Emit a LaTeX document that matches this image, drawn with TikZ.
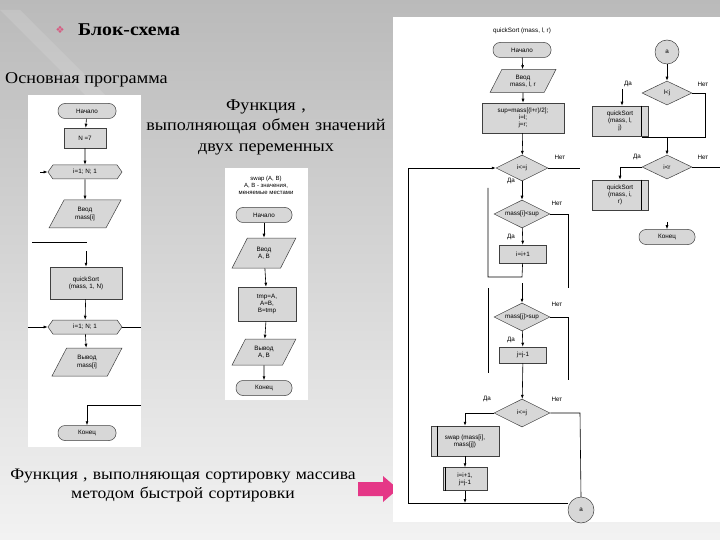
\documentclass[tikz,border=0pt]{standalone}
\usepackage{fontspec}
\setmainfont{Liberation Serif}[FakeStretch=1.1]
\newfontfamily\fcfont{Liberation Sans}
\newfontfamily\symfont{DejaVu Sans}
\usetikzlibrary{shapes.geometric,shapes.symbols,arrows.meta}
\definecolor{boxgray}{RGB}{215,215,215}
\definecolor{pinkA}{RGB}{229,55,135}
\definecolor{bulletpink}{RGB}{214,92,130}
\tikzset{
  fc/.style={draw=black!75, line width=0.5pt, fill=boxgray, font=\fcfont\fontsize{6.3}{7.2}\selectfont, align=center, inner sep=1pt},
  term/.style={fc, rectangle, rounded corners=7pt, minimum width=58pt, minimum height=15pt},
  proc/.style={fc, rectangle},
  io/.style={fc, trapezium, trapezium left angle=62, trapezium right angle=118, trapezium stretches=true},
  dec/.style={fc, diamond, inner sep=0pt, aspect=2},
  hex/.style={fc, signal, signal to=east and west, signal pointer angle=110},
  conn/.style={fc, circle},
  arr/.style={-{Latex[length=4pt,width=3pt]}, line width=0.6pt},
  ln/.style={line width=0.6pt},
  lab/.style={font=\fcfont\fontsize{6.3}{7.2}\selectfont, inner sep=0pt},
  big/.style={font=\fontsize{16.5}{19.5}\selectfont, align=center, inner sep=0pt},
  panel/.style={fill=white, draw=none}
}
\begin{document}
\begin{tikzpicture}[x=1pt,y=-1pt]
\useasboundingbox (0,0) rectangle (720,540);
\shade[top color=black!27, bottom color=black!5] (0,0) rectangle (720,540);
\fill[white, opacity=0.12] (0,10) -- (20,10) -- (130,120) -- (110,120) -- cycle;

% headings
\node[inner sep=0pt, text=bulletpink, font=\symfont\fontsize{10}{12}\selectfont] (bul) at (60,30) {❖};
\node[inner sep=0pt, anchor=west, font=\bfseries\fontsize{18}{21}\selectfont] (ttl) at (78,30) {Блок-схема};
\node[big, anchor=west] (main) at (5,80) {Основная программа};
\node[big, text width=270pt] (swt) at (266,127) {Функция ,\\[1pt] выполняющая обмен значений\\[1pt] двух переменных};
\node[big, font=\fontsize{16}{19}\selectfont, text width=390pt] (qst) at (183,485) {Функция , выполняющая сортировку массива\\ методом быстрой сортировки};
\fill[pinkA] (358,482) -- (383,482) -- (383,476) -- (398,489) -- (383,502) -- (383,496) -- (358,496) -- cycle;

% panels
\fill[panel] (28,95) rectangle (141,447);
\fill[panel] (225,168) rectangle (308,400);
\fill[panel] (393,17) rectangle (720,522);

% ---------------- main program ----------------
\node[term] (n1) at (87,111) {Начало};
\node[proc, minimum width=42pt, minimum height=20pt] (n2) at (85,138) {N =7};
\node[hex, minimum width=74pt, minimum height=14pt] (n3) at (85,172) {i=1; N; 1};
\node[io, minimum width=72pt, minimum height=28pt] (n4) at (85,214) {Ввод\\mass[i]};
\node[proc, minimum width=72pt, minimum height=32pt] (n5) at (86,283) {quickSort\\(mass, 1, N)};
\node[hex, minimum width=74pt, minimum height=14pt] (n6) at (85,327) {i=1; N; 1};
\node[io, minimum width=70pt, minimum height=28pt] (n7) at (87,362) {Вывод\\mass[i]};
\node[term] (n8) at (87,433) {Конец};
\coordinate (l1) at (40,172);
\coordinate (l2) at (32,242);
\coordinate (l3) at (87,242);
\coordinate (l4) at (86,251);
\coordinate (l5) at (28,327);
\coordinate (l6) at (141,327);
\coordinate (l7) at (141,405);
\coordinate (l8) at (87,405);
\draw[arr] (n1) -- (n2);
\draw[arr] (n2) -- (n3);
\draw[arr] (n3) -- (n4);
\draw[arr] (l1) -- (n3.west);
\draw[ln] (l2) -- (l3);
\draw[arr] (l4) -- (n5);
\draw[arr] (n5) -- (n6);
\draw[arr] (l5) -- (n6.west);
\draw[ln] (n6.east) -- (l6);
\draw[arr] (n6) -- (n7);
\draw[arr] (l7) -- (l8) -- (n8);

% ---------------- swap ----------------
\node[lab, align=center, font=\fcfont\fontsize{6}{7}\selectfont] (m0) at (266,185) {swap (A, B)\\A, B - значения,\\меняемые местами};
\node[term, minimum width=56pt] (m1) at (264,215) {Начало};
\node[io, minimum width=64pt, minimum height=30pt] (m2) at (264,253) {Ввод\\A, B};
\node[proc, minimum width=58pt, minimum height=34pt] (m3) at (267,304) {tmp=A,\\A=B,\\B=tmp};
\node[io, minimum width=64pt, minimum height=26pt] (m4) at (264,352) {Вывод\\A, B};
\node[term, minimum width=56pt] (m5) at (264,388) {Конец};
\draw[arr] (m1) -- (m2);
\draw[arr] (m2) -- (m3);
\draw[arr] (m3) -- (m4);
\draw[arr] (m4) -- (m5);

% ---------------- quickSort ----------------
\node[lab] (q0) at (522,31) {quickSort (mass, l, r)};
\node[term] (q1) at (522,50) {Начало};
\node[io, minimum width=66pt, minimum height=23pt] (q2) at (523,81) {Ввод\\mass, l, r};
\node[proc, minimum width=82pt, minimum height=30pt] (q3) at (523,118) {sup=mass[(l+r)/2];\\i=l;\\j=r;};
\node[dec, minimum width=52pt, minimum height=26pt] (d1) at (522,168) {i<=j};
\node[dec, minimum width=56pt, minimum height=28pt] (d2) at (522,214) {mass[i]<sup};
\node[proc, minimum width=47pt, minimum height=18pt] (b1) at (523,254) {i=i+1};
\node[dec, minimum width=56pt, minimum height=28pt] (d3) at (522,317) {mass[j]>sup};
\node[proc, minimum width=47pt, minimum height=16pt] (b2) at (523,355) {j=j-1};
\node[dec, minimum width=56pt, minimum height=28pt] (d4) at (522,413) {i<=j};
\node[proc, minimum width=68pt, minimum height=30pt] (sw) at (465,441) {swap (mass[i],\\mass[j])};
\node[proc, minimum width=44pt, minimum height=23pt] (b3) at (465,479) {i=i+1,\\j=j-1};
\node[conn, minimum size=26pt] (ca) at (581,510) {a};
\draw[ln] ([xshift=7pt]sw.north west) -- ([xshift=7pt]sw.south west);
\draw[ln] ([xshift=3pt]b3.north west) -- ([xshift=3pt]b3.south west);

\coordinate (r1) at (522,277);
\coordinate (r2) at (488,277);
\coordinate (r3) at (488,188);
\coordinate (r4) at (568,214);
\coordinate (r5) at (568,288);
\coordinate (r6) at (522,283);
\coordinate (r7) at (568,317);
\coordinate (r8) at (568,380);
\coordinate (r9) at (488,288);
\coordinate (r10) at (488,373);
\coordinate (r11) at (580,413);
\coordinate (r12) at (465,503);
\coordinate (r13) at (568,503);
\coordinate (r14) at (408,503);
\coordinate (r15) at (408,168);
\coordinate (r16) at (580,168);

\draw[arr] (q1) -- (q2);
\draw[arr] (q2) -- (q3);
\draw[arr] (q3) -- (d1);
\draw[arr] (d1) -- (d2);
\draw[arr] (d2) -- (b1);
\draw[ln] (b1) -- (r1) -- (r2) -- (r3);
\draw[ln] (d2.east) -- (r4) -- (r5);
\draw[arr] (r6) -- (d3);
\draw[arr] (d3) -- (b2);
\draw[ln] (d3.east) -- (r7) -- (r8);
\draw[ln] (r9) -- (r10);
\draw[arr] (b2) -- (d4);
\draw[arr] (d4.west) -| (sw.north);
\draw[ln] (d4.east) -- (r11) -- (ca.north);
\draw[arr] (sw) -- (b3);
\draw[arr] (b3) -- (r12);
\draw[arr] (r13) -- (r14) -- (r15) -- (d1.west);
\draw[ln] (d1.east) -- (r16);

\node[lab] (t1) at (560,157) {Нет};
\node[lab] (t2) at (511,181) {Да};
\node[lab] (t3) at (557,203) {Нет};
\node[lab] (t4) at (511,237) {Да};
\node[lab] (t5) at (557,304) {Нет};
\node[lab] (t6) at (511,340) {Да};
\node[lab] (t7) at (487,399) {Да};
\node[lab] (t8) at (557,399) {Нет};

% right column
\node[conn, minimum size=24pt] (cb) at (667,52) {a};
\node[dec, minimum width=50pt, minimum height=24pt] (d5) at (667,93) {l<j};
\node[proc, minimum width=56pt, minimum height=30pt] (qs1) at (620,121) {quickSort\\(mass, l,\\j)};
\node[dec, minimum width=50pt, minimum height=24pt] (d6) at (667,167) {i<r};
\node[proc, minimum width=56pt, minimum height=30pt] (qs2) at (620,195) {quickSort\\(mass, i,\\r)};
\node[term, minimum width=56pt] (qe) at (667,237) {Конец};
\draw[ln] ([xshift=-7pt]qs1.north east) -- ([xshift=-7pt]qs1.south east);
\draw[ln] ([xshift=-7pt]qs2.north east) -- ([xshift=-7pt]qs2.south east);
\coordinate (s1) at (622,89);
\coordinate (s2) at (705,93);
\coordinate (s3) at (705,137);
\coordinate (s4) at (642,137);
\coordinate (s5) at (667,137);
\coordinate (s6) at (720,167);
\coordinate (s7) at (667,222);
\draw[arr] (cb) -- (d5);
\draw[arr] (s1) -- (qs1.north -| s1);
\draw[ln] (d5.east) -- (s2) -- (s3) -- (s4);
\draw[arr] (s5) -- (d6);
\draw[ln] (d6.east) -- (s6);
\draw[arr] (d6.west) -| (qs2.north);
\draw[arr] (s7) -- (qe);
\node[lab] (u1) at (628,84) {Да};
\node[lab] (u2) at (703,84) {Нет};
\node[lab] (u3) at (637,157) {Да};
\node[lab] (u4) at (703,157) {Нет};
\end{tikzpicture}
\end{document}
